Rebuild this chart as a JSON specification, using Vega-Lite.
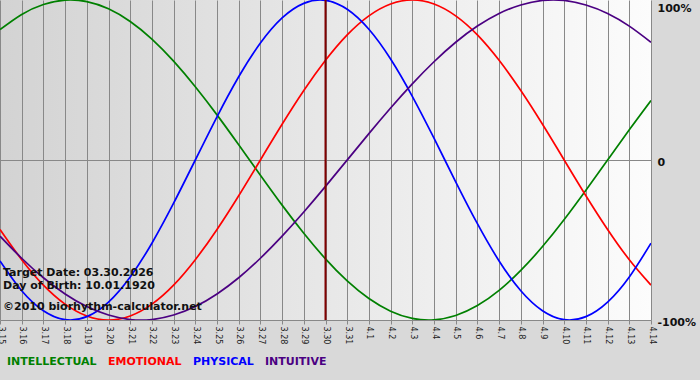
{
  "$schema": "https://vega.github.io/schema/vega-lite/v6.json",
  "width": 651,
  "height": 320,
  "autosize": {"type": "none"},
  "padding": {"left": 0, "top": 0, "right": 49, "bottom": 60},
  "background": "#d9d9d9",
  "config": {
    "view": {
      "stroke": null,
      "fill": {"gradient": "linear", "x1": 0, "y1": 0, "x2": 1, "y2": 0, "stops": [{"offset": 0, "color": "#d3d3d3"}, {"offset": 1, "color": "#fcfcfc"}]}
    },
    "font": "DejaVu Sans"
  },
  "layer": [
    {
      "data": {
        "values": [
          {"d": 0, "INTELLECTUAL": 81.5, "EMOTIONAL": -43.4, "PHYSICAL": -63.1, "INTUITIVE": -47.6},
          {"d": 1, "INTELLECTUAL": 91.0, "EMOTIONAL": -62.3, "PHYSICAL": -81.7, "INTUITIVE": -61.4},
          {"d": 2, "INTELLECTUAL": 97.2, "EMOTIONAL": -78.2, "PHYSICAL": -94.2, "INTUITIVE": -73.6},
          {"d": 3, "INTELLECTUAL": 99.9, "EMOTIONAL": -90.1, "PHYSICAL": -99.8, "INTUITIVE": -83.7},
          {"d": 4, "INTELLECTUAL": 99.0, "EMOTIONAL": -97.5, "PHYSICAL": -97.9, "INTUITIVE": -91.6},
          {"d": 5, "INTELLECTUAL": 94.5, "EMOTIONAL": -100, "PHYSICAL": -88.8, "INTUITIVE": -96.9},
          {"d": 6, "INTELLECTUAL": 86.6, "EMOTIONAL": -97.5, "PHYSICAL": -73.1, "INTUITIVE": -99.7},
          {"d": 7, "INTELLECTUAL": 75.6, "EMOTIONAL": -90.1, "PHYSICAL": -52.0, "INTUITIVE": -99.7},
          {"d": 8, "INTELLECTUAL": 61.8, "EMOTIONAL": -78.2, "PHYSICAL": -27.0, "INTUITIVE": -96.9},
          {"d": 9, "INTELLECTUAL": 45.8, "EMOTIONAL": -62.3, "PHYSICAL": 0, "INTUITIVE": -91.6},
          {"d": 10, "INTELLECTUAL": 28.2, "EMOTIONAL": -43.4, "PHYSICAL": 27.0, "INTUITIVE": -83.7},
          {"d": 11, "INTELLECTUAL": 9.5, "EMOTIONAL": -22.3, "PHYSICAL": 52.0, "INTUITIVE": -73.6},
          {"d": 12, "INTELLECTUAL": -9.5, "EMOTIONAL": 0, "PHYSICAL": 73.1, "INTUITIVE": -61.4},
          {"d": 13, "INTELLECTUAL": -28.2, "EMOTIONAL": 22.3, "PHYSICAL": 88.8, "INTUITIVE": -47.6},
          {"d": 14, "INTELLECTUAL": -45.8, "EMOTIONAL": 43.4, "PHYSICAL": 97.9, "INTUITIVE": -32.5},
          {"d": 15, "INTELLECTUAL": -61.8, "EMOTIONAL": 62.3, "PHYSICAL": 99.8, "INTUITIVE": -16.5},
          {"d": 16, "INTELLECTUAL": -75.6, "EMOTIONAL": 78.2, "PHYSICAL": 94.2, "INTUITIVE": 0},
          {"d": 17, "INTELLECTUAL": -86.6, "EMOTIONAL": 90.1, "PHYSICAL": 81.7, "INTUITIVE": 16.5},
          {"d": 18, "INTELLECTUAL": -94.5, "EMOTIONAL": 97.5, "PHYSICAL": 63.1, "INTUITIVE": 32.5},
          {"d": 19, "INTELLECTUAL": -99.0, "EMOTIONAL": 100, "PHYSICAL": 39.8, "INTUITIVE": 47.6},
          {"d": 20, "INTELLECTUAL": -99.9, "EMOTIONAL": 97.5, "PHYSICAL": 13.6, "INTUITIVE": 61.4},
          {"d": 21, "INTELLECTUAL": -97.2, "EMOTIONAL": 90.1, "PHYSICAL": -13.6, "INTUITIVE": 73.6},
          {"d": 22, "INTELLECTUAL": -91.0, "EMOTIONAL": 78.2, "PHYSICAL": -39.8, "INTUITIVE": 83.7},
          {"d": 23, "INTELLECTUAL": -81.5, "EMOTIONAL": 62.3, "PHYSICAL": -63.1, "INTUITIVE": 91.6},
          {"d": 24, "INTELLECTUAL": -69.0, "EMOTIONAL": 43.4, "PHYSICAL": -81.7, "INTUITIVE": 96.9},
          {"d": 25, "INTELLECTUAL": -54.1, "EMOTIONAL": 22.3, "PHYSICAL": -94.2, "INTUITIVE": 99.7},
          {"d": 26, "INTELLECTUAL": -37.2, "EMOTIONAL": 0, "PHYSICAL": -99.8, "INTUITIVE": 99.7},
          {"d": 27, "INTELLECTUAL": -18.9, "EMOTIONAL": -22.3, "PHYSICAL": -97.9, "INTUITIVE": 96.9},
          {"d": 28, "INTELLECTUAL": 0, "EMOTIONAL": -43.4, "PHYSICAL": -88.8, "INTUITIVE": 91.6},
          {"d": 29, "INTELLECTUAL": 18.9, "EMOTIONAL": -62.3, "PHYSICAL": -73.1, "INTUITIVE": 83.7},
          {"d": 30, "INTELLECTUAL": 37.2, "EMOTIONAL": -78.2, "PHYSICAL": -52.0, "INTUITIVE": 73.6}
        ]
      },
      "transform": [{"fold": ["INTELLECTUAL", "EMOTIONAL", "PHYSICAL", "INTUITIVE"], "as": ["series", "value"]}],
      "mark": {"type": "line", "interpolate": "natural", "strokeWidth": 1.7, "clip": true},
      "encoding": {
        "x": {
          "field": "d", "type": "quantitative",
          "scale": {"domain": [0, 30], "nice": false, "zero": false},
          "axis": {
            "title": null,
            "values": [0,1,2,3,4,5,6,7,8,9,10,11,12,13,14,15,16,17,18,19,20,21,22,23,24,25,26,27,28,29,30],
            "tickCount": 31,
            "labelExpr": "['3.15','3.16','3.17','3.18','3.19','3.20','3.21','3.22','3.23','3.24','3.25','3.26','3.27','3.28','3.29','3.30','3.31','4.1','4.2','4.3','4.4','4.5','4.6','4.7','4.8','4.9','4.10','4.11','4.12','4.13','4.14'][datum.value]",
            "labelAngle": 90,
            "labelAlign": "left",
            "labelBaseline": "middle",
            "labelPadding": 2,
            "labelFont": "DejaVu Sans",
            "labelFontSize": 8,
            "labelColor": "#222222",
            "labelOverlap": false,
            "labelFlush": false,
            "labelBound": false,
            "grid": true,
            "gridColor": "#888888",
            "gridWidth": 1,
            "gridOpacity": 1,
            "domain": true,
            "domainColor": "#888888",
            "ticks": true,
            "tickColor": "#888888",
            "tickSize": 4
          }
        },
        "y": {
          "field": "value", "type": "quantitative",
          "scale": {"domain": [-100, 100], "nice": false, "zero": false},
          "axis": {
            "title": null,
            "orient": "right",
            "values": [-100, 0, 100],
            "labelExpr": "datum.value == 0 ? '0' : datum.value + '%'",
            "labelFont": "DejaVu Sans",
            "labelFontSize": 11,
            "labelFontWeight": "bold",
            "labelColor": "#111111",
            "labelPadding": 6,
            "labelFlush": false,
            "labelBound": false,
            "labelBaseline": {"condition": {"test": "datum.value == 100", "value": "top"}, "value": "middle"},
            "labelOffset": {"condition": {"test": "datum.value == 100", "value": 2}, "value": 2.5},
            "domain": false,
            "ticks": false,
            "grid": true,
            "gridColor": {"condition": {"test": "datum.value == 0", "value": "#888888"}, "value": "transparent"},
            "gridOpacity": 1
          }
        },
        "color": {
          "field": "series", "type": "nominal",
          "scale": {"domain": ["INTELLECTUAL", "EMOTIONAL", "PHYSICAL", "INTUITIVE"], "range": ["#008000", "#ff0000", "#0000ff", "#4b0082"]},
          "legend": {
            "title": null,
            "orient": "none",
            "legendX": -4,
            "legendY": 356,
            "direction": "horizontal",
            "symbolSize": 0,
            "symbolOpacity": 0,
            "symbolStrokeWidth": 0,
            "labelOffset": 0,
            "columnPadding": 0,
            "labelFont": "DejaVu Sans",
            "labelFontSize": 11,
            "labelFontWeight": "bold",
            "encode": {"labels": {"update": {"fill": {"scale": "color", "field": "value"}}}}
          }
        },
        "order": {"field": "d"}
      }
    },
    {
      "data": {"values": [{}]},
      "mark": {"type": "rule", "color": "#800000", "strokeWidth": 2},
      "encoding": {"x": {"datum": 15}}
    },
    {
      "data": {"values": [{}]},
      "mark": {"type": "text", "align": "left", "baseline": "middle", "dx": 3, "font": "DejaVu Sans", "fontSize": 11, "fontWeight": "bold", "color": "#111111", "text": "Target Date: 03.30.2026"},
      "encoding": {"x": {"datum": 0}, "y": {"datum": -70.5}}
    },
    {
      "data": {"values": [{}]},
      "mark": {"type": "text", "align": "left", "baseline": "middle", "dx": 3, "font": "DejaVu Sans", "fontSize": 11, "fontWeight": "bold", "color": "#111111", "text": "Day of Birth: 10.01.1920"},
      "encoding": {"x": {"datum": 0}, "y": {"datum": -78.8}}
    },
    {
      "data": {"values": [{}]},
      "mark": {"type": "text", "align": "left", "baseline": "middle", "dx": 3, "font": "DejaVu Sans", "fontSize": 11, "fontWeight": "bold", "color": "#111111", "text": "©2010 biorhythm-calculator.net"},
      "encoding": {"x": {"datum": 0}, "y": {"datum": -91.7}}
    }
  ]
}
